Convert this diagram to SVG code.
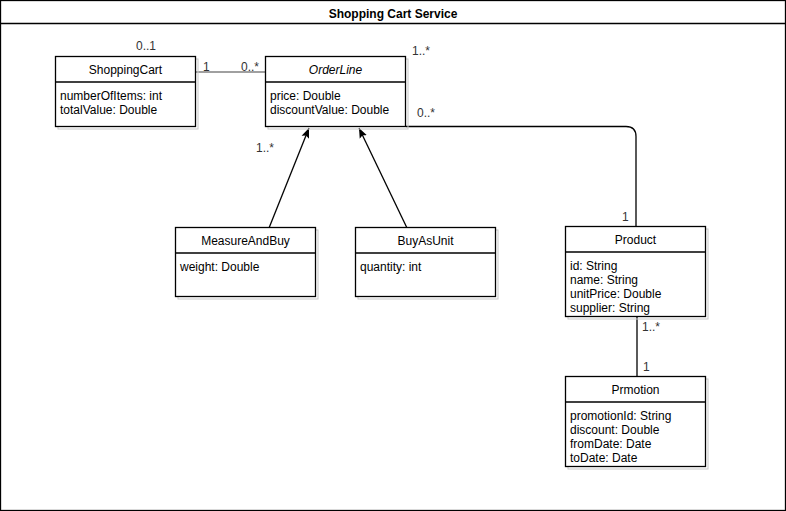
<svg xmlns="http://www.w3.org/2000/svg" width="786" height="511" viewBox="0 0 786 511">
<style>
text{font-family:"Liberation Sans",Arial,sans-serif;font-size:12px;fill:#000}
.t{text-anchor:middle}
.lbl{fill:#333}
.box{fill:#fff;stroke:#000;stroke-width:1.3}
.sh{fill:none;stroke:#c8c8c8;stroke-width:1}
.div{stroke:#000;stroke-width:1.3}
.ln{fill:none;stroke:#000;stroke-width:1.3}
</style>
<defs>
<marker id="arr" viewBox="0 0 10 10" refX="10" refY="5" markerWidth="10" markerHeight="10" markerUnits="userSpaceOnUse" orient="auto">
<path d="M0,1 L10,5 L0,9 L2,5 z" fill="#000"/>
</marker>
</defs>
<rect x="0.5" y="0.5" width="785" height="510" fill="#fff" stroke="#000" stroke-width="1.3"/>
<line x1="0.5" y1="23.5" x2="785.5" y2="23.5" stroke="#000" stroke-width="1.3"/>
<text x="393" y="18" class="t" style="font-weight:bold">Shopping Cart Service</text>

<g id="connectors">
<line x1="196" y1="72" x2="265" y2="72" stroke="#808080" stroke-width="1.5"/>
<path class="ln" d="M406,126.5 H626 Q636,126.5 636,136.5 V227"/>
<line class="ln" x1="637" y1="317" x2="637" y2="376"/>
<line class="ln" x1="269" y1="228" x2="309" y2="128" marker-end="url(#arr)"/>
<line class="ln" x1="407" y1="228" x2="359" y2="128" marker-end="url(#arr)"/>
<text x="136" y="50" class="lbl">0..1</text>
<text x="203" y="71" class="lbl">1</text>
<text x="241" y="71" class="lbl">0..*</text>
<text x="412" y="55" class="lbl">1..*</text>
<text x="417" y="117" class="lbl">0..*</text>
<text x="622" y="221" class="lbl">1</text>
<text x="256" y="152" class="lbl">1..*</text>
<text x="642" y="331" class="lbl">1..*</text>
<text x="643" y="371" class="lbl">1</text>
</g>

<g id="ShoppingCart">
<rect class="sh" x="58" y="59" width="140" height="70"/>
<rect class="box" x="55.5" y="56.5" width="140" height="70"/>
<line class="div" x1="55.5" y1="82" x2="195.5" y2="82"/>
<text x="125.5" y="74" class="t">ShoppingCart</text>
<text x="60" y="100">numberOfItems: int</text>
<text x="60" y="114">totalValue: Double</text>
</g>

<g id="OrderLine">
<rect class="sh" x="268" y="59" width="140" height="70"/>
<rect class="box" x="265.5" y="56.5" width="140" height="70"/>
<line class="div" x1="265.5" y1="82" x2="405.5" y2="82"/>
<text x="335.5" y="74" class="t" style="font-style:italic">OrderLine</text>
<text x="270" y="100">price: Double</text>
<text x="270" y="114">discountValue: Double</text>
</g>

<g id="MeasureAndBuy">
<rect class="sh" x="178" y="230" width="140" height="69"/>
<rect class="box" x="175.5" y="227.5" width="140" height="69"/>
<line class="div" x1="175.5" y1="253" x2="315.5" y2="253"/>
<text x="245.5" y="245" class="t">MeasureAndBuy</text>
<text x="180" y="271">weight: Double</text>
</g>

<g id="BuyAsUnit">
<rect class="sh" x="358" y="230" width="140" height="69"/>
<rect class="box" x="355.5" y="227.5" width="140" height="69"/>
<line class="div" x1="355.5" y1="253" x2="495.5" y2="253"/>
<text x="425.5" y="245" class="t">BuyAsUnit</text>
<text x="360" y="271">quantity: int</text>
</g>

<g id="Product">
<rect class="sh" x="568" y="229" width="140" height="90"/>
<rect class="box" x="565.5" y="226.5" width="140" height="90"/>
<line class="div" x1="565.5" y1="252" x2="705.5" y2="252"/>
<text x="635.5" y="244" class="t">Product</text>
<text x="570" y="270">id: String</text>
<text x="570" y="284">name: String</text>
<text x="570" y="298">unitPrice: Double</text>
<text x="570" y="312">supplier: String</text>
</g>

<g id="Prmotion">
<rect class="sh" x="568" y="379" width="140" height="90"/>
<rect class="box" x="565.5" y="376.5" width="140" height="90"/>
<line class="div" x1="565.5" y1="402" x2="705.5" y2="402"/>
<text x="635.5" y="394" class="t">Prmotion</text>
<text x="570" y="420">promotionId: String</text>
<text x="570" y="434">discount: Double</text>
<text x="570" y="448">fromDate: Date</text>
<text x="570" y="462">toDate: Date</text>
</g>
</svg>
